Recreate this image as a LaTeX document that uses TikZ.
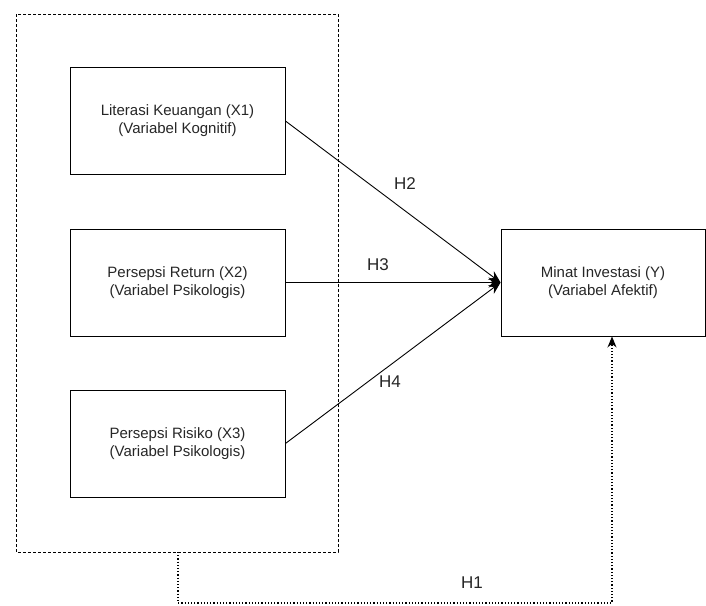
\documentclass[tikz,border=0pt]{standalone}
\usepackage{fontspec}
\setmainfont{Liberation Sans}
\usetikzlibrary{arrows.meta}
\begin{document}
\begin{tikzpicture}[x=1pt,y=-1pt,
  box/.style={draw,line width=0.9pt,minimum width=215pt,minimum height=107pt,align=center,font=\fontsize{15}{18}\selectfont,text=black!85},
  hlab/.style={font=\fontsize{17}{20}\selectfont,text=black!85},
  arr/.style={line width=0.9pt,-{Stealth[length=12pt,width=10pt]}}]
\useasboundingbox (0,0) rectangle (706,605);
\draw[dashed,line width=0.8pt,dash pattern=on 3pt off 2pt] (16,14) rectangle (338,552);
\node[box] (x1) at (177.5,121) {Literasi Keuangan (X1)\\(Variabel Kognitif)};
\node[box] (x2) at (177.5,282.5) {Persepsi Return (X2)\\(Variabel Psikologis)};
\node[box] (x3) at (177.5,443.5) {Persepsi Risiko (X3)\\(Variabel Psikologis)};
\node[box,minimum width=204pt] (y) at (603,282.5) {Minat Investasi (Y)\\(Variabel Afektif)};
\coordinate (frame) at (178,552);
\coordinate (c1) at (178,603);
\coordinate (c2) at (612,603);
\draw[arr] (x1.east) -- (y.west);
\draw[arr] (x2.east) -- (y.west);
\draw[arr] (x3.east) -- (y.west);
\draw[line width=1.2pt,dotted,-{Stealth[length=11pt,width=9pt]}] (frame) -- (c1) -- (c2) -- (c2 |- y.south);
\node[hlab] (h2) at (405,184) {H2};
\node[hlab] (h3) at (378,265) {H3};
\node[hlab] (h4) at (390,382) {H4};
\node[hlab] (h1) at (472,583) {H1};
\end{tikzpicture}
\end{document}
